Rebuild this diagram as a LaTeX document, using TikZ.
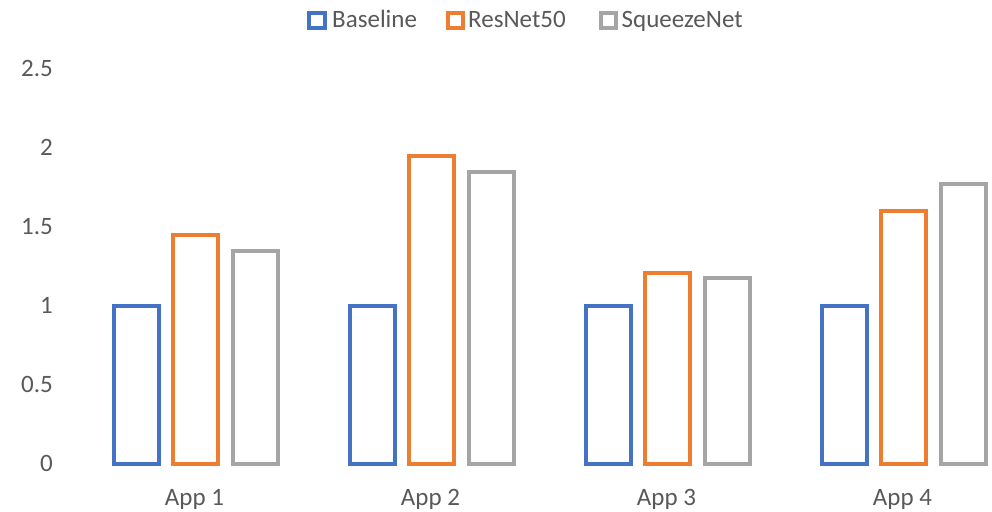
\documentclass[tikz,border=0pt]{standalone}
\usepackage{fontspec}
\setmainfont{Carlito}
\definecolor{txt}{HTML}{595959}
\definecolor{cbase}{HTML}{4472C4}
\definecolor{cres}{HTML}{ED7D31}
\definecolor{csq}{HTML}{A5A5A5}
\begin{document}
\begin{tikzpicture}[x=1pt,y=-1pt,
  bar/.style={line width=4pt, line join=miter},
  lbl/.style={text=txt, font=\fontsize{25}{30}\selectfont, inner sep=0pt}]
\useasboundingbox[fill=white] (0,0) rectangle (992,511);
% y axis labels
\foreach \v/\t [count=\k] in {0/0,0.5/0.5,1/1,1.5/1.5,2/2,2.5/2.5}
  \node[lbl, anchor=base east] (tick\k) at (53,{464-158*\v+7.7}) {\t};
% bars
\foreach \g/\a/\b [count=\i from 0] in {1/1.45/1.35, 2/1.95/1.85, 3/1.21/1.18, 4/1.60/1.775}{
  \pgfmathsetmacro{\cx}{195.5+236*\i}
  \draw[bar, cbase] ({\cx-59.5-22.5},464) rectangle ({\cx-59.5+22.5},{464-158});
  \draw[bar, cres] ({\cx-22.5},464) rectangle ({\cx+22.5},{464-158*\a});
  \draw[bar, csq] ({\cx+59.5-22.5},464) rectangle ({\cx+59.5+22.5},{464-158*\b});
  \node[lbl, anchor=base] (app\g) at ({\cx-1},505) {App \g};
}
% legend
\draw[bar, cbase] (309.2,12.8) rectangle (324.6,27.6);
\node[lbl, anchor=base west] (lbase) at (332,27.5) {Baseline};
\draw[bar, cres] (448.2,12.8) rectangle (463.2,27.6);
\node[lbl, anchor=base west] (lres) at (468,27.5) {ResNet50};
\draw[bar, csq] (601.2,12.8) rectangle (616.2,27.6);
\node[lbl, anchor=base west] (lsq) at (621.5,27.5) {SqueezeNet};
\end{tikzpicture}
\end{document}
